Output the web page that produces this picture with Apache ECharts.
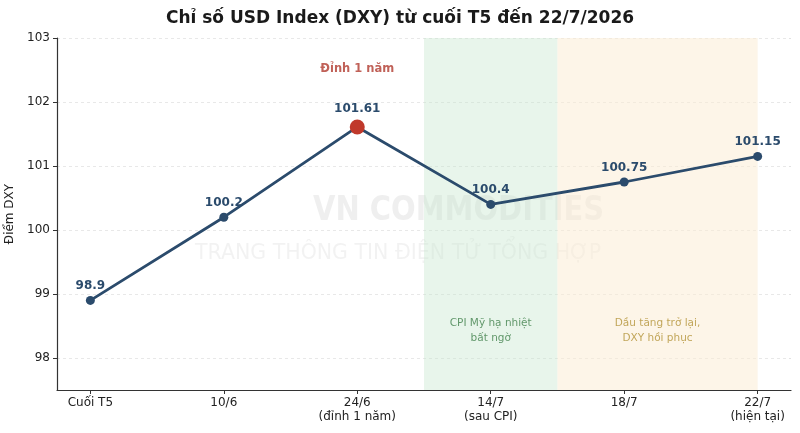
<!DOCTYPE html>
<html><head><meta charset="utf-8">
<script src="https://cdn.jsdelivr.net/npm/echarts@6/dist/echarts.min.js"></script>
<style>html,body{margin:0;padding:0;background:#fff}#c{width:800px;height:433px}</style>
</head><body><div id="c"></div>
<script>
const categories = ['Cuối T5', '10/6', '24/6\n(đỉnh 1 năm)', '14/7\n(sau CPI)', '18/7', '22/7\n(hiện tại)'];
const values = [98.9, 100.2, 101.61, 100.4, 100.75, 101.15];
const labels = ['98.9', '100.2', '101.61', '100.4', '100.75', '101.15'];
const yTicks = [98, 99, 100, 101, 102, 103];
const peakIndex = 2;
const zoneCPI = [2.5, 3.5];
const zoneOil = [3.5, 5.0];
const zoneCPIText = 'CPI Mỹ hạ nhiệt\nbất ngờ';
const zoneOilText = 'Dầu tăng trở lại,\nDXY hồi phục';
const peakNote = 'Đỉnh 1 năm';
const peakNoteY = 102.52;
const zoneTextY = 98.43;

const FONT = 'DejaVu Sans';
const lineColor = '#2b4b6c';
const xTicks = categories.map((c, i) => i);
const chart = echarts.init(document.getElementById('c'));
const pts = values.map((v, i) => ({
  value: [i, v],
  symbolSize: i === peakIndex ? 15 : 9,
  itemStyle: { color: i === peakIndex ? '#c0392b' : lineColor },
  label: { show: true, formatter: labels[i], distance: i === peakIndex ? 5 : 4 }
}));
chart.setOption({
  animation: false,
  textStyle: { fontFamily: FONT },
  title: {
    text: 'Chỉ số USD Index (DXY) từ cuối T5 đến 22/7/2026',
    left: 'center', top: 5,
    textStyle: { fontFamily: FONT, fontSize: 17, fontWeight: 'bold', color: '#1a1a1a' }
  },
  grid: { left: 57, right: 9, top: 38, bottom: 43, containLabel: false, outerBoundsMode: 'none' },
  graphic: [
    { type: 'text', left: 313, top: 195, z: 0, silent: true, scaleY: 1.15,
      style: { text: 'VN COMMODITIES', fontFamily: FONT, fontSize: 29, fontWeight: 'bold', fill: 'rgba(150,150,150,0.15)' } },
    { type: 'text', left: 195, top: 243, z: 0, silent: true,
      style: { text: 'TRANG THÔNG TIN ĐIỆN TỬ TỔNG HỢP', fontFamily: FONT, fontSize: 20.5, fill: 'rgba(150,150,150,0.12)' } }
  ],
  xAxis: {
    type: 'value', min: -0.25, max: 5.25,
    splitLine: { show: false },
    axisLine: { lineStyle: { color: '#333', width: 1.2 } },
    axisTick: { show: true, length: 4, customValues: xTicks, lineStyle: { color: '#333' } },
    axisLabel: {
      color: '#222', fontSize: 12, fontFamily: FONT, margin: 6, lineHeight: 14,
      customValues: xTicks,
      formatter: v => (Number.isInteger(v) && v >= 0 && v < categories.length) ? categories[v] : ''
    }
  },
  yAxis: {
    type: 'value', min: 97.5, max: 103, splitNumber: 5,
    name: 'Điểm DXY', nameLocation: 'middle', nameGap: 34, nameRotate: 90,
    nameTextStyle: { color: '#222', fontSize: 12, fontFamily: FONT },
    axisLine: { show: true, onZero: false, lineStyle: { color: '#333', width: 1.2 } },
    axisTick: { show: true, length: 4, customValues: yTicks, lineStyle: { color: '#333' } },
    axisLabel: {
      color: '#222', fontSize: 12, fontFamily: FONT, margin: 7,
      customValues: yTicks,
      formatter: v => Number.isInteger(v) ? String(v) : ''
    },
    splitLine: { show: true, lineStyle: { color: '#e2e2e2', type: [3, 3], width: 0.8 } }
  },
  series: [{
    type: 'line',
    data: pts,
    symbol: 'circle',
    lineStyle: { color: lineColor, width: 2.8 },
    label: { position: 'top', color: '#2b4b6c', fontWeight: 'bold', fontSize: 12, fontFamily: FONT },
    z: 5,
    markArea: {
      silent: true,
      label: { show: false },
      data: [
        [{ xAxis: zoneCPI[0], itemStyle: { color: 'rgba(200,232,208,0.42)' } }, { xAxis: zoneCPI[1] }],
        [{ xAxis: zoneOil[0], itemStyle: { color: 'rgba(252,236,210,0.5)' } }, { xAxis: zoneOil[1] }]
      ]
    }
  }, {
    type: 'scatter',
    symbolSize: 0,
    silent: true,
    data: [
      { value: [peakIndex, peakNoteY], label: { formatter: peakNote, color: '#b03a2e', fontWeight: 'bold', fontSize: 11.5 } },
      { value: [(zoneCPI[0] + zoneCPI[1]) / 2, zoneTextY], label: { formatter: zoneCPIText, color: '#3f7f4a', fontSize: 10.5, lineHeight: 15 } },
      { value: [(zoneOil[0] + zoneOil[1]) / 2, zoneTextY], label: { formatter: zoneOilText, color: '#b39236', fontSize: 10.5, lineHeight: 15 } }
    ],
    label: { show: true, position: 'inside', fontFamily: FONT }
  }]
});
</script></body></html>
